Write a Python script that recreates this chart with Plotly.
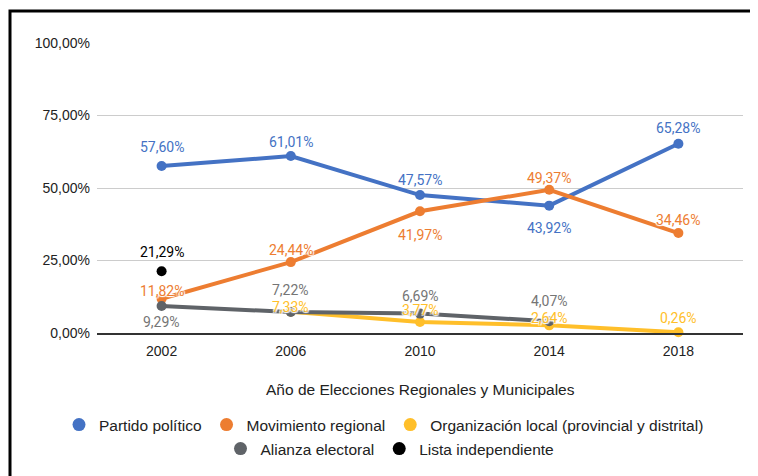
import plotly.graph_objects as go

years = ["2002", "2006", "2010", "2014", "2018"]
partido = [57.60, 61.01, 47.57, 43.92, 65.28]
movimiento = [11.82, 24.44, 41.97, 49.37, 34.46]
organizacion = [None, 7.33, 3.77, 2.64, 0.26]
alianza = [9.29, 7.22, 6.69, 4.07, None]
lista = [21.29, None, None, None, None]

names = ["Partido político", "Movimiento regional",
         "Organización local (provincial y distrital)",
         "Alianza electoral", "Lista independiente"]
colors = ["#4472C4", "#ED7D31", "#FFBF2A", "#5F6368", "#000000"]
label_colors = ["#4472C4", "#ED7D31", "#FFBF2A", "#757575", "#000000"]
legend_rows = ["legend", "legend", "legend", "legend2", "legend2"]

# vertical pixel offset of each data label's centre from its point (style only)
label_shift = [
    [19, 14, 15, -22, 16],
    [8, 12, -24, 12, 13],
    [0, 5, 12, 7, 14],
    [-16, 22, 18, 20, 0],
    [19, 0, 0, 0, 0],
]

HALO = ("1px 1px 1px white, -1px -1px 1px white, "
        "1px -1px 1px white, -1px 1px 1px white")

def fmt(v):
    return f"{v:.2f}".replace(".", ",") + "%"

series = [partido, movimiento, organizacion, alianza, lista]

fig = go.Figure()
annotations = []
for vals, name, c, lc, shifts in zip(series, names, colors, label_colors, label_shift):
    fig.add_trace(go.Scatter(
        x=years, y=vals, mode="lines+markers", name=name,
        line=dict(color=c, width=4), marker=dict(color=c, size=10),
        showlegend=False, connectgaps=False, cliponaxis=False,
    ))
    for i, (v, s) in enumerate(zip(vals, shifts)):
        if v is None:
            continue
        annotations.append(dict(
            x=i, y=v, xref="x", yref="y", text=fmt(v), showarrow=False,
            xanchor="center", yanchor="middle", yshift=s,
            font=dict(family="Roboto", size=14, color=lc, shadow=HALO),
        ))
for name, c, lg in zip(names, colors, legend_rows):
    fig.add_trace(go.Scatter(
        x=[None], y=[None], mode="markers", name=name, legend=lg,
        marker=dict(color=c, size=13), showlegend=True,
    ))

legend_common = dict(
    orientation="h", xanchor="center", yanchor="middle",
    font=dict(family="Liberation Sans, Arial", size=15.5, color="#222222"),
    itemwidth=30, bgcolor="rgba(0,0,0,0)", tracegroupgap=0,
)

annotations.append(dict(
    text="Año de Elecciones Regionales y Municipales",
    xref="paper", yref="paper", x=0.5, y=(333 - 389) / 290,
    xanchor="center", yanchor="middle", showarrow=False,
    font=dict(family="Liberation Sans, Arial", size=15.5, color="#222222"),
))

# page has an 8px body margin: figure is offset by 8px right and down
fig.update_layout(
    width=750, height=468,
    margin=dict(l=89, r=15, t=35, b=143, autoexpand=False),
    paper_bgcolor="white", plot_bgcolor="white",
    font=dict(family="Liberation Sans, Arial", size=14, color="#222222"),
    xaxis=dict(
        type="category", range=[-0.5, 4.5], showgrid=False, automargin=False,
        showline=True, linecolor="#333333", linewidth=1.5,
        ticks="", ticklabelstandoff=4, tickfont=dict(size=14, color="#222222"),
    ),
    yaxis=dict(
        range=[0, 100], tickvals=[0, 25, 50, 75, 100], automargin=False,
        ticktext=["0,00%", "25,00%", "50,00%", "75,00%", "100,00%"],
        showgrid=True, gridcolor="#CCCCCC", gridwidth=1, zeroline=False,
        ticks="", ticklabelstandoff=6, tickfont=dict(size=14, color="#222222"),
    ),
    legend=dict(x=(384 - 97) / 646, y=(333 - 425) / 290, **legend_common),
    legend2=dict(x=(390 - 97) / 646, y=(333 - 449) / 290, **legend_common),
    annotations=annotations,
    shapes=[dict(
        type="rect", xref="paper", yref="paper",
        x0=(10 - 97) / 646, x1=(800 - 97) / 646,
        y0=(333 - 520) / 290, y1=(333 - 11) / 290,
        line=dict(color="black", width=3), fillcolor="rgba(0,0,0,0)",
        layer="above",
    )],
)

fig.write_html("out.html")
